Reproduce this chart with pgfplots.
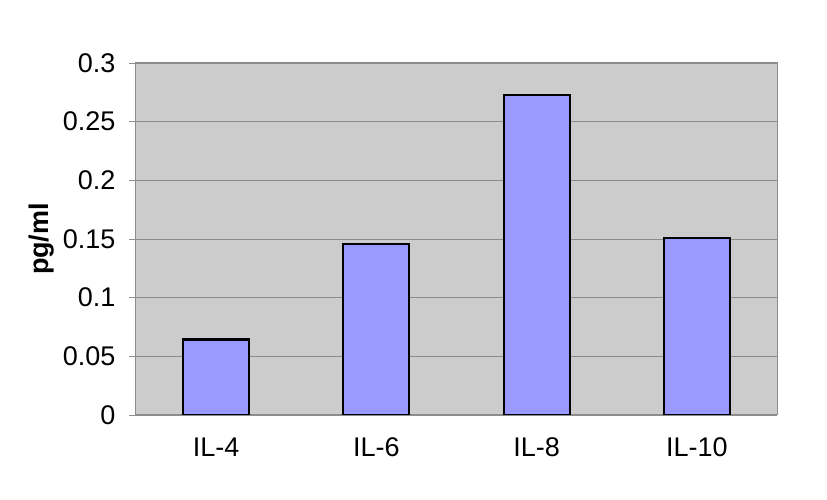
\documentclass[border=0pt]{standalone}
\usepackage{pgfplots}
\pgfplotsset{compat=1.18}
\usetikzlibrary{calc}
\usepackage{fontspec}
\setmainfont{Liberation Sans}
\definecolor{barfill}{HTML}{9999FF}
\definecolor{plotbg}{HTML}{CCCCCC}
\definecolor{gridc}{HTML}{8C8C8C}
\begin{document}
\begin{tikzpicture}
\begin{axis}[
  name=ax,
  at={(0,0)}, anchor=south west,
  scale only axis,
  width=641pt, height=352pt,
  xmin=-0.5, xmax=3.5,
  ymin=0, ymax=0.3,
  ytick={0,0.05,0.1,0.15,0.2,0.25,0.3},
  yticklabels={0,0.05,0.1,0.15,0.2,0.25,0.3},
  xtick={0,1,2,3},
  xticklabels={IL-4,IL-6,IL-8,IL-10},
  tick pos=left,
  major x tick style={draw=none},
  extra x ticks={-0.5,0.5,1.5,2.5,3.5},
  extra x tick labels={},
  extra x tick style={grid=none, tick pos=left, major tick length=7pt, tick style={draw=gridc, line width=0.8pt}},
  tick align=outside,
  major tick length=7pt,
  ytick style={draw=gridc, line width=0.8pt},
  ymajorgrids,
  grid style={draw=gridc, line width=0.9pt},
  axis background/.style={fill=plotbg},
  axis line style={draw=gridc, line width=1pt},
  tick label style={font=\fontsize{27}{31}\selectfont},
  /pgf/number format/assume math mode=true,
  yticklabel style={xshift=-10pt},
  xticklabel style={yshift=-12pt},
  ylabel={\textbf{pg/ml}},
  ylabel style={font=\fontsize{27}{31}\selectfont, yshift=2pt},
  axis on top=false,
]
\addplot[ybar, bar width=66pt, fill=barfill, draw=black, line width=2.2pt]
  coordinates {(0,0.0643) (1,0.1457) (2,0.2727) (3,0.1509)};
\end{axis}
\pgfresetboundingbox
\useasboundingbox ($(ax.south west)+(-136pt,-85pt)$) rectangle ($(ax.north east)+(50pt,63pt)$);
\end{tikzpicture}
\end{document}
